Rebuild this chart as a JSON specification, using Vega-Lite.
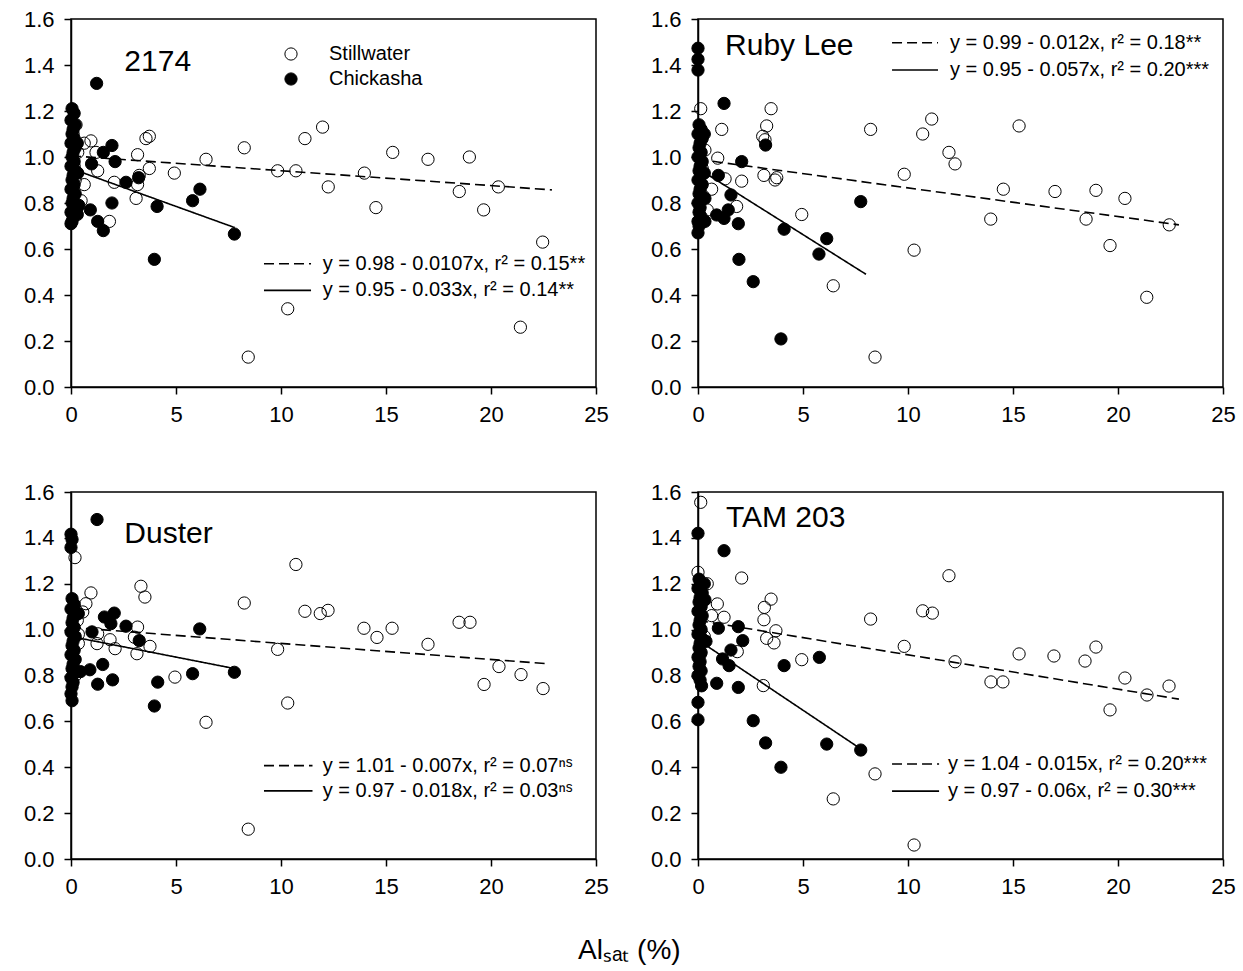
{
"$schema":"https://vega.github.io/schema/vega-lite/v6.json",
"padding":{"left":22,"top":7,"right":5,"bottom":5},
"background":"white",
"title":{"text":"Alₛₐₜ (%)","orient":"bottom","anchor":"middle","fontSize":28,"font":"Liberation Sans","fontWeight":"normal","color":"black","offset":39},
"config":{
 "font":"Liberation Sans",
 "view":{"stroke":"black","strokeWidth":1.5},
 "axis":{"grid":false,"domainColor":"black","domainWidth":1.5,"tickColor":"black","tickWidth":1.5,"tickSize":7,"labelFont":"Liberation Sans","labelFontSize":22,"labelColor":"black","labelPadding":10,"labelFlush":false,"labelOverlap":false}
},
"datasets":{
"points":[
{"cultivar":"2174","site":"Stillwater","x":0.24,"y":1.14},{"cultivar":"2174","site":"Stillwater","x":0.32,"y":1.02},{"cultivar":"2174","site":"Stillwater","x":0.63,"y":1.06},{"cultivar":"2174","site":"Stillwater","x":0.95,"y":1.07},{"cultivar":"2174","site":"Stillwater","x":1.19,"y":1.02},{"cultivar":"2174","site":"Stillwater","x":3.57,"y":1.08},{"cultivar":"2174","site":"Stillwater","x":3.73,"y":1.09},{"cultivar":"2174","site":"Stillwater","x":3.17,"y":1.01},{"cultivar":"2174","site":"Stillwater","x":6.43,"y":0.99},{"cultivar":"2174","site":"Stillwater","x":8.25,"y":1.04},{"cultivar":"2174","site":"Stillwater","x":9.84,"y":0.94},{"cultivar":"2174","site":"Stillwater","x":10.71,"y":0.94},{"cultivar":"2174","site":"Stillwater","x":11.14,"y":1.08},{"cultivar":"2174","site":"Stillwater","x":11.98,"y":1.13},{"cultivar":"2174","site":"Stillwater","x":12.25,"y":0.87},{"cultivar":"2174","site":"Stillwater","x":13.97,"y":0.93},{"cultivar":"2174","site":"Stillwater","x":14.52,"y":0.78},{"cultivar":"2174","site":"Stillwater","x":15.32,"y":1.02},{"cultivar":"2174","site":"Stillwater","x":17.0,"y":0.99},{"cultivar":"2174","site":"Stillwater","x":18.97,"y":1.0},{"cultivar":"2174","site":"Stillwater","x":18.49,"y":0.85},{"cultivar":"2174","site":"Stillwater","x":20.35,"y":0.87},{"cultivar":"2174","site":"Stillwater","x":19.65,"y":0.77},{"cultivar":"2174","site":"Stillwater","x":22.46,"y":0.63},{"cultivar":"2174","site":"Stillwater","x":10.32,"y":0.34},{"cultivar":"2174","site":"Stillwater","x":21.4,"y":0.26},{"cultivar":"2174","site":"Stillwater","x":8.44,"y":0.13},{"cultivar":"2174","site":"Stillwater","x":4.92,"y":0.93},{"cultivar":"2174","site":"Stillwater","x":3.73,"y":0.95},{"cultivar":"2174","site":"Stillwater","x":3.25,"y":0.92},{"cultivar":"2174","site":"Stillwater","x":3.17,"y":0.88},{"cultivar":"2174","site":"Stillwater","x":2.06,"y":0.89},{"cultivar":"2174","site":"Stillwater","x":1.27,"y":0.94},{"cultivar":"2174","site":"Stillwater","x":0.63,"y":0.88},{"cultivar":"2174","site":"Stillwater","x":3.1,"y":0.82},{"cultivar":"2174","site":"Stillwater","x":1.83,"y":0.72},{"cultivar":"2174","site":"Stillwater","x":0.48,"y":0.81},{"cultivar":"2174","site":"Stillwater","x":0.15,"y":0.96},{"cultivar":"2174","site":"Stillwater","x":0.2,"y":0.9},{"cultivar":"2174","site":"Stillwater","x":0.1,"y":1.1},{"cultivar":"2174","site":"Stillwater","x":0.3,"y":0.78},
{"cultivar":"2174","site":"Chickasha","x":0.05,"y":1.21},{"cultivar":"2174","site":"Chickasha","x":0.15,"y":1.19},{"cultivar":"2174","site":"Chickasha","x":0.0,"y":1.16},{"cultivar":"2174","site":"Chickasha","x":0.2,"y":1.14},{"cultivar":"2174","site":"Chickasha","x":0.1,"y":1.12},{"cultivar":"2174","site":"Chickasha","x":0.05,"y":1.1},{"cultivar":"2174","site":"Chickasha","x":0.15,"y":1.08},{"cultivar":"2174","site":"Chickasha","x":0.0,"y":1.06},{"cultivar":"2174","site":"Chickasha","x":0.2,"y":1.04},{"cultivar":"2174","site":"Chickasha","x":0.1,"y":1.02},{"cultivar":"2174","site":"Chickasha","x":0.05,"y":1.0},{"cultivar":"2174","site":"Chickasha","x":0.15,"y":0.98},{"cultivar":"2174","site":"Chickasha","x":0.0,"y":0.96},{"cultivar":"2174","site":"Chickasha","x":0.2,"y":0.94},{"cultivar":"2174","site":"Chickasha","x":0.1,"y":0.92},{"cultivar":"2174","site":"Chickasha","x":0.05,"y":0.9},{"cultivar":"2174","site":"Chickasha","x":0.15,"y":0.88},{"cultivar":"2174","site":"Chickasha","x":0.0,"y":0.86},{"cultivar":"2174","site":"Chickasha","x":0.2,"y":0.84},{"cultivar":"2174","site":"Chickasha","x":0.1,"y":0.82},{"cultivar":"2174","site":"Chickasha","x":0.05,"y":0.8},{"cultivar":"2174","site":"Chickasha","x":0.15,"y":0.78},{"cultivar":"2174","site":"Chickasha","x":0.0,"y":0.76},{"cultivar":"2174","site":"Chickasha","x":0.1,"y":0.74},{"cultivar":"2174","site":"Chickasha","x":0.05,"y":0.72},{"cultivar":"2174","site":"Chickasha","x":0.0,"y":0.71},
{"cultivar":"2174","site":"Chickasha","x":1.22,"y":1.32},{"cultivar":"2174","site":"Chickasha","x":0.98,"y":0.97},{"cultivar":"2174","site":"Chickasha","x":1.54,"y":1.02},{"cultivar":"2174","site":"Chickasha","x":1.95,"y":1.05},{"cultivar":"2174","site":"Chickasha","x":2.1,"y":0.98},{"cultivar":"2174","site":"Chickasha","x":2.62,"y":0.89},{"cultivar":"2174","site":"Chickasha","x":3.22,"y":0.91},{"cultivar":"2174","site":"Chickasha","x":1.95,"y":0.8},{"cultivar":"2174","site":"Chickasha","x":4.1,"y":0.785},{"cultivar":"2174","site":"Chickasha","x":0.92,"y":0.77},{"cultivar":"2174","site":"Chickasha","x":1.27,"y":0.72},{"cultivar":"2174","site":"Chickasha","x":1.54,"y":0.68},{"cultivar":"2174","site":"Chickasha","x":5.79,"y":0.81},{"cultivar":"2174","site":"Chickasha","x":6.14,"y":0.86},{"cultivar":"2174","site":"Chickasha","x":7.78,"y":0.665},{"cultivar":"2174","site":"Chickasha","x":3.97,"y":0.555},{"cultivar":"2174","site":"Chickasha","x":0.32,"y":0.93},{"cultivar":"2174","site":"Chickasha","x":0.37,"y":0.79},{"cultivar":"2174","site":"Chickasha","x":0.3,"y":1.06},{"cultivar":"2174","site":"Chickasha","x":0.3,"y":0.75},

{"cultivar":"Ruby Lee","site":"Stillwater","x":0.13,"y":1.21},{"cultivar":"Ruby Lee","site":"Stillwater","x":1.13,"y":1.12},{"cultivar":"Ruby Lee","site":"Stillwater","x":3.48,"y":1.21},{"cultivar":"Ruby Lee","site":"Stillwater","x":3.27,"y":1.135},{"cultivar":"Ruby Lee","site":"Stillwater","x":3.08,"y":1.09},{"cultivar":"Ruby Lee","site":"Stillwater","x":3.19,"y":1.075},{"cultivar":"Ruby Lee","site":"Stillwater","x":0.94,"y":0.995},{"cultivar":"Ruby Lee","site":"Stillwater","x":0.33,"y":1.03},{"cultivar":"Ruby Lee","site":"Stillwater","x":3.14,"y":0.92},{"cultivar":"Ruby Lee","site":"Stillwater","x":3.67,"y":0.9},{"cultivar":"Ruby Lee","site":"Stillwater","x":3.75,"y":0.91},{"cultivar":"Ruby Lee","site":"Stillwater","x":2.08,"y":0.895},{"cultivar":"Ruby Lee","site":"Stillwater","x":1.29,"y":0.905},{"cultivar":"Ruby Lee","site":"Stillwater","x":0.65,"y":0.86},{"cultivar":"Ruby Lee","site":"Stillwater","x":1.84,"y":0.785},{"cultivar":"Ruby Lee","site":"Stillwater","x":0.44,"y":0.77},{"cultivar":"Ruby Lee","site":"Stillwater","x":4.94,"y":0.75},{"cultivar":"Ruby Lee","site":"Stillwater","x":6.44,"y":0.44},{"cultivar":"Ruby Lee","site":"Stillwater","x":8.22,"y":1.12},{"cultivar":"Ruby Lee","site":"Stillwater","x":9.82,"y":0.925},{"cultivar":"Ruby Lee","site":"Stillwater","x":10.29,"y":0.595},{"cultivar":"Ruby Lee","site":"Stillwater","x":10.7,"y":1.1},{"cultivar":"Ruby Lee","site":"Stillwater","x":11.13,"y":1.165},{"cultivar":"Ruby Lee","site":"Stillwater","x":8.43,"y":0.13},{"cultivar":"Ruby Lee","site":"Stillwater","x":11.95,"y":1.02},{"cultivar":"Ruby Lee","site":"Stillwater","x":12.24,"y":0.97},{"cultivar":"Ruby Lee","site":"Stillwater","x":15.29,"y":1.135},{"cultivar":"Ruby Lee","site":"Stillwater","x":14.54,"y":0.86},{"cultivar":"Ruby Lee","site":"Stillwater","x":13.94,"y":0.73},{"cultivar":"Ruby Lee","site":"Stillwater","x":17.0,"y":0.85},{"cultivar":"Ruby Lee","site":"Stillwater","x":18.95,"y":0.855},{"cultivar":"Ruby Lee","site":"Stillwater","x":20.33,"y":0.82},{"cultivar":"Ruby Lee","site":"Stillwater","x":18.48,"y":0.73},{"cultivar":"Ruby Lee","site":"Stillwater","x":19.62,"y":0.615},{"cultivar":"Ruby Lee","site":"Stillwater","x":22.44,"y":0.705},{"cultivar":"Ruby Lee","site":"Stillwater","x":21.37,"y":0.39},{"cultivar":"Ruby Lee","site":"Stillwater","x":0.2,"y":0.95},{"cultivar":"Ruby Lee","site":"Stillwater","x":0.15,"y":1.1},{"cultivar":"Ruby Lee","site":"Stillwater","x":0.25,"y":0.83},
{"cultivar":"Ruby Lee","site":"Chickasha","x":0.0,"y":1.473},{"cultivar":"Ruby Lee","site":"Chickasha","x":0.0,"y":1.425},{"cultivar":"Ruby Lee","site":"Chickasha","x":0.0,"y":1.378},{"cultivar":"Ruby Lee","site":"Chickasha","x":0.05,"y":1.14},{"cultivar":"Ruby Lee","site":"Chickasha","x":0.15,"y":1.12},{"cultivar":"Ruby Lee","site":"Chickasha","x":0.0,"y":1.1},{"cultivar":"Ruby Lee","site":"Chickasha","x":0.2,"y":1.08},{"cultivar":"Ruby Lee","site":"Chickasha","x":0.1,"y":1.06},{"cultivar":"Ruby Lee","site":"Chickasha","x":0.05,"y":1.04},{"cultivar":"Ruby Lee","site":"Chickasha","x":0.15,"y":1.02},{"cultivar":"Ruby Lee","site":"Chickasha","x":0.0,"y":1.0},{"cultivar":"Ruby Lee","site":"Chickasha","x":0.2,"y":0.98},{"cultivar":"Ruby Lee","site":"Chickasha","x":0.1,"y":0.96},{"cultivar":"Ruby Lee","site":"Chickasha","x":0.05,"y":0.94},{"cultivar":"Ruby Lee","site":"Chickasha","x":0.15,"y":0.92},{"cultivar":"Ruby Lee","site":"Chickasha","x":0.0,"y":0.9},{"cultivar":"Ruby Lee","site":"Chickasha","x":0.2,"y":0.88},{"cultivar":"Ruby Lee","site":"Chickasha","x":0.1,"y":0.86},{"cultivar":"Ruby Lee","site":"Chickasha","x":0.05,"y":0.84},{"cultivar":"Ruby Lee","site":"Chickasha","x":0.15,"y":0.82},{"cultivar":"Ruby Lee","site":"Chickasha","x":0.0,"y":0.8},{"cultivar":"Ruby Lee","site":"Chickasha","x":0.1,"y":0.78},{"cultivar":"Ruby Lee","site":"Chickasha","x":0.05,"y":0.76},{"cultivar":"Ruby Lee","site":"Chickasha","x":0.15,"y":0.74},{"cultivar":"Ruby Lee","site":"Chickasha","x":0.0,"y":0.72},{"cultivar":"Ruby Lee","site":"Chickasha","x":0.05,"y":0.7},{"cultivar":"Ruby Lee","site":"Chickasha","x":0.0,"y":0.67},
{"cultivar":"Ruby Lee","site":"Chickasha","x":1.24,"y":1.233},{"cultivar":"Ruby Lee","site":"Chickasha","x":3.22,"y":1.052},{"cultivar":"Ruby Lee","site":"Chickasha","x":2.08,"y":0.98},{"cultivar":"Ruby Lee","site":"Chickasha","x":0.97,"y":0.92},{"cultivar":"Ruby Lee","site":"Chickasha","x":0.33,"y":0.82},{"cultivar":"Ruby Lee","site":"Chickasha","x":0.89,"y":0.748},{"cultivar":"Ruby Lee","site":"Chickasha","x":1.24,"y":0.733},{"cultivar":"Ruby Lee","site":"Chickasha","x":1.44,"y":0.77},{"cultivar":"Ruby Lee","site":"Chickasha","x":1.57,"y":0.835},{"cultivar":"Ruby Lee","site":"Chickasha","x":0.33,"y":0.72},{"cultivar":"Ruby Lee","site":"Chickasha","x":1.92,"y":0.71},{"cultivar":"Ruby Lee","site":"Chickasha","x":1.95,"y":0.555},{"cultivar":"Ruby Lee","site":"Chickasha","x":2.63,"y":0.458},{"cultivar":"Ruby Lee","site":"Chickasha","x":4.1,"y":0.686},{"cultivar":"Ruby Lee","site":"Chickasha","x":6.13,"y":0.645},{"cultivar":"Ruby Lee","site":"Chickasha","x":5.76,"y":0.578},{"cultivar":"Ruby Lee","site":"Chickasha","x":7.75,"y":0.806},{"cultivar":"Ruby Lee","site":"Chickasha","x":3.95,"y":0.209},{"cultivar":"Ruby Lee","site":"Chickasha","x":0.3,"y":1.1},{"cultivar":"Ruby Lee","site":"Chickasha","x":0.3,"y":0.93},

{"cultivar":"Duster","site":"Stillwater","x":0.19,"y":1.314},{"cultivar":"Duster","site":"Stillwater","x":0.95,"y":1.16},{"cultivar":"Duster","site":"Stillwater","x":0.71,"y":1.113},{"cultivar":"Duster","site":"Stillwater","x":0.56,"y":1.077},{"cultivar":"Duster","site":"Stillwater","x":3.33,"y":1.189},{"cultivar":"Duster","site":"Stillwater","x":3.52,"y":1.142},{"cultivar":"Duster","site":"Stillwater","x":3.17,"y":1.011},{"cultivar":"Duster","site":"Stillwater","x":3.02,"y":0.967},{"cultivar":"Duster","site":"Stillwater","x":3.76,"y":0.927},{"cultivar":"Duster","site":"Stillwater","x":3.14,"y":0.895},{"cultivar":"Duster","site":"Stillwater","x":1.86,"y":0.956},{"cultivar":"Duster","site":"Stillwater","x":2.1,"y":0.917},{"cultivar":"Duster","site":"Stillwater","x":1.24,"y":0.939},{"cultivar":"Duster","site":"Stillwater","x":1.27,"y":0.982},{"cultivar":"Duster","site":"Stillwater","x":0.35,"y":0.98},{"cultivar":"Duster","site":"Stillwater","x":0.35,"y":0.94},{"cultivar":"Duster","site":"Stillwater","x":4.95,"y":0.793},{"cultivar":"Duster","site":"Stillwater","x":6.43,"y":0.596},{"cultivar":"Duster","site":"Stillwater","x":8.25,"y":1.116},{"cultivar":"Duster","site":"Stillwater","x":9.84,"y":0.914},{"cultivar":"Duster","site":"Stillwater","x":10.32,"y":0.68},{"cultivar":"Duster","site":"Stillwater","x":10.71,"y":1.284},{"cultivar":"Duster","site":"Stillwater","x":11.14,"y":1.08},{"cultivar":"Duster","site":"Stillwater","x":11.87,"y":1.07},{"cultivar":"Duster","site":"Stillwater","x":8.44,"y":0.13},{"cultivar":"Duster","site":"Stillwater","x":12.24,"y":1.084},{"cultivar":"Duster","site":"Stillwater","x":13.95,"y":1.006},{"cultivar":"Duster","site":"Stillwater","x":14.57,"y":0.966},{"cultivar":"Duster","site":"Stillwater","x":15.29,"y":1.006},{"cultivar":"Duster","site":"Stillwater","x":17.0,"y":0.936},{"cultivar":"Duster","site":"Stillwater","x":18.48,"y":1.032},{"cultivar":"Duster","site":"Stillwater","x":19.0,"y":1.032},{"cultivar":"Duster","site":"Stillwater","x":19.67,"y":0.761},{"cultivar":"Duster","site":"Stillwater","x":20.38,"y":0.839},{"cultivar":"Duster","site":"Stillwater","x":21.43,"y":0.804},{"cultivar":"Duster","site":"Stillwater","x":22.48,"y":0.743},{"cultivar":"Duster","site":"Stillwater","x":0.2,"y":0.8},{"cultivar":"Duster","site":"Stillwater","x":0.3,"y":1.04},
{"cultivar":"Duster","site":"Chickasha","x":0.0,"y":1.416},{"cultivar":"Duster","site":"Chickasha","x":0.05,"y":1.393},{"cultivar":"Duster","site":"Chickasha","x":0.0,"y":1.358},{"cultivar":"Duster","site":"Chickasha","x":0.05,"y":1.135},{"cultivar":"Duster","site":"Chickasha","x":0.15,"y":1.11},{"cultivar":"Duster","site":"Chickasha","x":0.0,"y":1.09},{"cultivar":"Duster","site":"Chickasha","x":0.2,"y":1.07},{"cultivar":"Duster","site":"Chickasha","x":0.1,"y":1.05},{"cultivar":"Duster","site":"Chickasha","x":0.05,"y":1.03},{"cultivar":"Duster","site":"Chickasha","x":0.15,"y":1.01},{"cultivar":"Duster","site":"Chickasha","x":0.0,"y":0.99},{"cultivar":"Duster","site":"Chickasha","x":0.2,"y":0.97},{"cultivar":"Duster","site":"Chickasha","x":0.1,"y":0.95},{"cultivar":"Duster","site":"Chickasha","x":0.05,"y":0.93},{"cultivar":"Duster","site":"Chickasha","x":0.15,"y":0.91},{"cultivar":"Duster","site":"Chickasha","x":0.0,"y":0.89},{"cultivar":"Duster","site":"Chickasha","x":0.2,"y":0.87},{"cultivar":"Duster","site":"Chickasha","x":0.1,"y":0.85},{"cultivar":"Duster","site":"Chickasha","x":0.05,"y":0.83},{"cultivar":"Duster","site":"Chickasha","x":0.15,"y":0.81},{"cultivar":"Duster","site":"Chickasha","x":0.0,"y":0.79},{"cultivar":"Duster","site":"Chickasha","x":0.1,"y":0.77},{"cultivar":"Duster","site":"Chickasha","x":0.05,"y":0.75},{"cultivar":"Duster","site":"Chickasha","x":0.0,"y":0.72},{"cultivar":"Duster","site":"Chickasha","x":0.05,"y":0.69},
{"cultivar":"Duster","site":"Chickasha","x":1.24,"y":1.48},{"cultivar":"Duster","site":"Chickasha","x":0.35,"y":1.07},{"cultivar":"Duster","site":"Chickasha","x":1.0,"y":0.99},{"cultivar":"Duster","site":"Chickasha","x":1.59,"y":1.055},{"cultivar":"Duster","site":"Chickasha","x":2.06,"y":1.072},{"cultivar":"Duster","site":"Chickasha","x":1.9,"y":1.026},{"cultivar":"Duster","site":"Chickasha","x":2.62,"y":1.015},{"cultivar":"Duster","site":"Chickasha","x":3.25,"y":0.952},{"cultivar":"Duster","site":"Chickasha","x":6.13,"y":1.003},{"cultivar":"Duster","site":"Chickasha","x":7.78,"y":0.814},{"cultivar":"Duster","site":"Chickasha","x":5.79,"y":0.808},{"cultivar":"Duster","site":"Chickasha","x":4.13,"y":0.771},{"cultivar":"Duster","site":"Chickasha","x":3.97,"y":0.667},{"cultivar":"Duster","site":"Chickasha","x":1.98,"y":0.781},{"cultivar":"Duster","site":"Chickasha","x":1.27,"y":0.762},{"cultivar":"Duster","site":"Chickasha","x":1.51,"y":0.848},{"cultivar":"Duster","site":"Chickasha","x":0.9,"y":0.825},{"cultivar":"Duster","site":"Chickasha","x":0.45,"y":0.817},

{"cultivar":"TAM 203","site":"Stillwater","x":0.13,"y":1.555},{"cultivar":"TAM 203","site":"Stillwater","x":0.0,"y":1.25},{"cultivar":"TAM 203","site":"Stillwater","x":0.44,"y":1.2},{"cultivar":"TAM 203","site":"Stillwater","x":2.08,"y":1.225},{"cultivar":"TAM 203","site":"Stillwater","x":0.92,"y":1.112},{"cultivar":"TAM 203","site":"Stillwater","x":0.65,"y":1.061},{"cultivar":"TAM 203","site":"Stillwater","x":1.24,"y":1.054},{"cultivar":"TAM 203","site":"Stillwater","x":3.16,"y":1.097},{"cultivar":"TAM 203","site":"Stillwater","x":3.48,"y":1.133},{"cultivar":"TAM 203","site":"Stillwater","x":3.14,"y":1.043},{"cultivar":"TAM 203","site":"Stillwater","x":3.71,"y":0.995},{"cultivar":"TAM 203","site":"Stillwater","x":3.27,"y":0.962},{"cultivar":"TAM 203","site":"Stillwater","x":3.62,"y":0.942},{"cultivar":"TAM 203","site":"Stillwater","x":1.87,"y":0.904},{"cultivar":"TAM 203","site":"Stillwater","x":4.94,"y":0.869},{"cultivar":"TAM 203","site":"Stillwater","x":3.11,"y":0.756},{"cultivar":"TAM 203","site":"Stillwater","x":8.22,"y":1.046},{"cultivar":"TAM 203","site":"Stillwater","x":9.82,"y":0.927},{"cultivar":"TAM 203","site":"Stillwater","x":10.7,"y":1.082},{"cultivar":"TAM 203","site":"Stillwater","x":11.16,"y":1.072},{"cultivar":"TAM 203","site":"Stillwater","x":8.43,"y":0.371},{"cultivar":"TAM 203","site":"Stillwater","x":6.44,"y":0.262},{"cultivar":"TAM 203","site":"Stillwater","x":10.29,"y":0.061},{"cultivar":"TAM 203","site":"Stillwater","x":0.3,"y":0.97},{"cultivar":"TAM 203","site":"Stillwater","x":0.1,"y":0.89},{"cultivar":"TAM 203","site":"Stillwater","x":11.95,"y":1.235},{"cultivar":"TAM 203","site":"Stillwater","x":12.24,"y":0.86},{"cultivar":"TAM 203","site":"Stillwater","x":13.95,"y":0.772},{"cultivar":"TAM 203","site":"Stillwater","x":14.52,"y":0.772},{"cultivar":"TAM 203","site":"Stillwater","x":15.29,"y":0.894},{"cultivar":"TAM 203","site":"Stillwater","x":16.95,"y":0.885},{"cultivar":"TAM 203","site":"Stillwater","x":18.43,"y":0.863},{"cultivar":"TAM 203","site":"Stillwater","x":18.95,"y":0.924},{"cultivar":"TAM 203","site":"Stillwater","x":19.62,"y":0.65},{"cultivar":"TAM 203","site":"Stillwater","x":20.33,"y":0.789},{"cultivar":"TAM 203","site":"Stillwater","x":21.38,"y":0.715},{"cultivar":"TAM 203","site":"Stillwater","x":22.43,"y":0.754},
{"cultivar":"TAM 203","site":"Chickasha","x":0.0,"y":1.42},{"cultivar":"TAM 203","site":"Chickasha","x":0.05,"y":1.22},{"cultivar":"TAM 203","site":"Chickasha","x":0.15,"y":1.2},{"cultivar":"TAM 203","site":"Chickasha","x":0.0,"y":1.18},{"cultivar":"TAM 203","site":"Chickasha","x":0.2,"y":1.16},{"cultivar":"TAM 203","site":"Chickasha","x":0.1,"y":1.14},{"cultivar":"TAM 203","site":"Chickasha","x":0.05,"y":1.12},{"cultivar":"TAM 203","site":"Chickasha","x":0.15,"y":1.1},{"cultivar":"TAM 203","site":"Chickasha","x":0.0,"y":1.08},{"cultivar":"TAM 203","site":"Chickasha","x":0.2,"y":1.06},{"cultivar":"TAM 203","site":"Chickasha","x":0.1,"y":1.04},{"cultivar":"TAM 203","site":"Chickasha","x":0.05,"y":1.02},{"cultivar":"TAM 203","site":"Chickasha","x":0.15,"y":1.0},{"cultivar":"TAM 203","site":"Chickasha","x":0.0,"y":0.98},{"cultivar":"TAM 203","site":"Chickasha","x":0.2,"y":0.96},{"cultivar":"TAM 203","site":"Chickasha","x":0.1,"y":0.94},{"cultivar":"TAM 203","site":"Chickasha","x":0.05,"y":0.92},{"cultivar":"TAM 203","site":"Chickasha","x":0.15,"y":0.9},{"cultivar":"TAM 203","site":"Chickasha","x":0.0,"y":0.88},{"cultivar":"TAM 203","site":"Chickasha","x":0.1,"y":0.86},{"cultivar":"TAM 203","site":"Chickasha","x":0.05,"y":0.84},{"cultivar":"TAM 203","site":"Chickasha","x":0.15,"y":0.82},{"cultivar":"TAM 203","site":"Chickasha","x":0.0,"y":0.8},{"cultivar":"TAM 203","site":"Chickasha","x":0.1,"y":0.78},{"cultivar":"TAM 203","site":"Chickasha","x":0.17,"y":0.755},{"cultivar":"TAM 203","site":"Chickasha","x":0.0,"y":0.683},{"cultivar":"TAM 203","site":"Chickasha","x":0.0,"y":0.607},
{"cultivar":"TAM 203","site":"Chickasha","x":1.24,"y":1.344},{"cultivar":"TAM 203","site":"Chickasha","x":0.97,"y":1.006},{"cultivar":"TAM 203","site":"Chickasha","x":1.92,"y":1.013},{"cultivar":"TAM 203","site":"Chickasha","x":2.13,"y":0.952},{"cultivar":"TAM 203","site":"Chickasha","x":1.57,"y":0.911},{"cultivar":"TAM 203","site":"Chickasha","x":1.17,"y":0.872},{"cultivar":"TAM 203","site":"Chickasha","x":1.48,"y":0.843},{"cultivar":"TAM 203","site":"Chickasha","x":0.38,"y":0.949},{"cultivar":"TAM 203","site":"Chickasha","x":0.89,"y":0.766},{"cultivar":"TAM 203","site":"Chickasha","x":1.92,"y":0.748},{"cultivar":"TAM 203","site":"Chickasha","x":4.1,"y":0.843},{"cultivar":"TAM 203","site":"Chickasha","x":5.78,"y":0.879},{"cultivar":"TAM 203","site":"Chickasha","x":2.63,"y":0.603},{"cultivar":"TAM 203","site":"Chickasha","x":3.22,"y":0.506},{"cultivar":"TAM 203","site":"Chickasha","x":3.95,"y":0.4},{"cultivar":"TAM 203","site":"Chickasha","x":6.13,"y":0.501},{"cultivar":"TAM 203","site":"Chickasha","x":7.75,"y":0.475},{"cultivar":"TAM 203","site":"Chickasha","x":0.33,"y":1.13},{"cultivar":"TAM 203","site":"Chickasha","x":0.3,"y":1.2}
],
"fits":[
{"cultivar":"2174","site":"Stillwater","x":0,"y":1.005},{"cultivar":"2174","site":"Stillwater","x":22.9,"y":0.857},
{"cultivar":"2174","site":"Chickasha","x":0,"y":0.95},{"cultivar":"2174","site":"Chickasha","x":7.8,"y":0.693},
{"cultivar":"Ruby Lee","site":"Stillwater","x":0,"y":0.99},{"cultivar":"Ruby Lee","site":"Stillwater","x":22.9,"y":0.705},
{"cultivar":"Ruby Lee","site":"Chickasha","x":0,"y":0.95},{"cultivar":"Ruby Lee","site":"Chickasha","x":8.0,"y":0.49},
{"cultivar":"Duster","site":"Stillwater","x":0,"y":1.01},{"cultivar":"Duster","site":"Stillwater","x":22.7,"y":0.851},
{"cultivar":"Duster","site":"Chickasha","x":0,"y":0.97},{"cultivar":"Duster","site":"Chickasha","x":7.8,"y":0.83},
{"cultivar":"TAM 203","site":"Stillwater","x":0,"y":1.04},{"cultivar":"TAM 203","site":"Stillwater","x":22.9,"y":0.697},
{"cultivar":"TAM 203","site":"Chickasha","x":0,"y":0.955},{"cultivar":"TAM 203","site":"Chickasha","x":7.75,"y":0.48}
]
},
"resolve":{"scale":{"fill":"independent"},"legend":{"fill":"independent"}},
"columns":2,
"spacing":{"row":105,"column":102},
"bounds":"flush",
"concat":[
{"width":525,"height":368,
"layer":[
{"data":{"name":"points"},"transform":[{"filter":"datum.cultivar === '2174'"}],
 "mark":{"type":"point","shape":"circle","filled":true,"size":150,"stroke":"black","strokeWidth":1,"opacity":1},
 "encoding":{
  "x":{"field":"x","type":"quantitative","scale":{"domain":[0,25],"nice":false},"axis":{"values":[0,5,10,15,20,25],"title":null}},
  "y":{"field":"y","type":"quantitative","scale":{"domain":[0,1.6],"nice":false},"axis":{"values":[0,0.2,0.4,0.6,0.8,1,1.2,1.4,1.6],"format":".1f","title":null}},
  "fill":{"field":"site","type":"nominal","scale":{"domain":["Stillwater","Chickasha"],"range":["transparent","black"]},
   "legend":{"orient":"none","legendX":210,"legendY":25,"title":null,"direction":"vertical","padding":0,"labelFontSize":20,"labelFont":"Liberation Sans","labelColor":"black","symbolType":"circle","symbolSize":150,"symbolStrokeColor":"black","symbolStrokeWidth":1,"labelOffset":28,"rowPadding":5}}
 }},
{"data":{"name":"fits"},"transform":[{"filter":"datum.cultivar === '2174'"}],
 "mark":{"type":"line","color":"black","strokeWidth":1.6},
 "encoding":{"x":{"field":"x","type":"quantitative","title":null},"y":{"field":"y","type":"quantitative","title":null},
  "strokeDash":{"field":"site","type":"nominal","scale":{"domain":["Stillwater","Chickasha"],"range":[[10,5],[1,0]]},"legend":null}}},
{"data":{"values":[{}]},"mark":{"type":"text","text":"2174","align":"left","baseline":"alphabetic","fontSize":30,"font":"Liberation Sans","color":"black"},"encoding":{"x":{"datum":2.54},"y":{"datum":1.372}}},
{"data":{"values":[{}]},"mark":{"type":"rule","color":"black","strokeWidth":1.6,"strokeDash":[10,5]},"encoding":{"x":{"datum":9.19},"x2":{"datum":11.43},"y":{"datum":0.536}}},
{"data":{"values":[{}]},"mark":{"type":"rule","color":"black","strokeWidth":1.6},"encoding":{"x":{"datum":9.19},"x2":{"datum":11.43},"y":{"datum":0.42}}},
{"data":{"values":[{}]},"mark":{"type":"text","text":"y = 0.98 - 0.0107x, r² = 0.15**","align":"left","baseline":"middle","fontSize":20,"font":"Liberation Sans","color":"black"},"encoding":{"x":{"datum":11.99},"y":{"datum":0.536}}},
{"data":{"values":[{}]},"mark":{"type":"text","text":"y = 0.95 - 0.033x, r² = 0.14**","align":"left","baseline":"middle","fontSize":20,"font":"Liberation Sans","color":"black"},"encoding":{"x":{"datum":11.99},"y":{"datum":0.42}}}
]},
{"width":525,"height":368,
"layer":[
{"data":{"name":"points"},"transform":[{"filter":"datum.cultivar === 'Ruby Lee'"}],
 "mark":{"type":"point","shape":"circle","filled":true,"size":150,"stroke":"black","strokeWidth":1,"opacity":1},
 "encoding":{
  "x":{"field":"x","type":"quantitative","scale":{"domain":[0,25],"nice":false},"axis":{"values":[0,5,10,15,20,25],"title":null}},
  "y":{"field":"y","type":"quantitative","scale":{"domain":[0,1.6],"nice":false},"axis":{"values":[0,0.2,0.4,0.6,0.8,1,1.2,1.4,1.6],"format":".1f","title":null}},
  "fill":{"field":"site","type":"nominal","scale":{"domain":["Stillwater","Chickasha"],"range":["transparent","black"]},"legend":null}
 }},
{"data":{"name":"fits"},"transform":[{"filter":"datum.cultivar === 'Ruby Lee'"}],
 "mark":{"type":"line","color":"black","strokeWidth":1.6},
 "encoding":{"x":{"field":"x","type":"quantitative","title":null},"y":{"field":"y","type":"quantitative","title":null},
  "strokeDash":{"field":"site","type":"nominal","scale":{"domain":["Stillwater","Chickasha"],"range":[[10,5],[1,0]]},"legend":null}}},
{"data":{"values":[{}]},"mark":{"type":"text","text":"Ruby Lee","align":"left","baseline":"alphabetic","fontSize":30,"font":"Liberation Sans","color":"black"},"encoding":{"x":{"datum":1.29},"y":{"datum":1.443}}},
{"data":{"values":[{}]},"mark":{"type":"rule","color":"black","strokeWidth":1.6,"strokeDash":[10,5]},"encoding":{"x":{"datum":9.24},"x2":{"datum":11.43},"y":{"datum":1.497}}},
{"data":{"values":[{}]},"mark":{"type":"rule","color":"black","strokeWidth":1.6},"encoding":{"x":{"datum":9.24},"x2":{"datum":11.43},"y":{"datum":1.378}}},
{"data":{"values":[{}]},"mark":{"type":"text","text":"y = 0.99 - 0.012x, r² = 0.18**","align":"left","baseline":"middle","fontSize":20,"font":"Liberation Sans","color":"black"},"encoding":{"x":{"datum":12.0},"y":{"datum":1.497}}},
{"data":{"values":[{}]},"mark":{"type":"text","text":"y = 0.95 - 0.057x, r² = 0.20***","align":"left","baseline":"middle","fontSize":20,"font":"Liberation Sans","color":"black"},"encoding":{"x":{"datum":12.0},"y":{"datum":1.378}}}
]},
{"width":525,"height":367,
"layer":[
{"data":{"name":"points"},"transform":[{"filter":"datum.cultivar === 'Duster'"}],
 "mark":{"type":"point","shape":"circle","filled":true,"size":150,"stroke":"black","strokeWidth":1,"opacity":1},
 "encoding":{
  "x":{"field":"x","type":"quantitative","scale":{"domain":[0,25],"nice":false},"axis":{"values":[0,5,10,15,20,25],"title":null}},
  "y":{"field":"y","type":"quantitative","scale":{"domain":[0,1.6],"nice":false},"axis":{"values":[0,0.2,0.4,0.6,0.8,1,1.2,1.4,1.6],"format":".1f","title":null}},
  "fill":{"field":"site","type":"nominal","scale":{"domain":["Stillwater","Chickasha"],"range":["transparent","black"]},"legend":null}
 }},
{"data":{"name":"fits"},"transform":[{"filter":"datum.cultivar === 'Duster'"}],
 "mark":{"type":"line","color":"black","strokeWidth":1.6},
 "encoding":{"x":{"field":"x","type":"quantitative","title":null},"y":{"field":"y","type":"quantitative","title":null},
  "strokeDash":{"field":"site","type":"nominal","scale":{"domain":["Stillwater","Chickasha"],"range":[[10,5],[1,0]]},"legend":null}}},
{"data":{"values":[{}]},"mark":{"type":"text","text":"Duster","align":"left","baseline":"alphabetic","fontSize":30,"font":"Liberation Sans","color":"black"},"encoding":{"x":{"datum":2.54},"y":{"datum":1.376}}},
{"data":{"values":[{}]},"mark":{"type":"rule","color":"black","strokeWidth":1.6,"strokeDash":[10,5]},"encoding":{"x":{"datum":9.19},"x2":{"datum":11.5},"y":{"datum":0.407}}},
{"data":{"values":[{}]},"mark":{"type":"rule","color":"black","strokeWidth":1.6},"encoding":{"x":{"datum":9.19},"x2":{"datum":11.5},"y":{"datum":0.297}}},
{"data":{"values":[{}]},"mark":{"type":"text","text":"y = 1.01 - 0.007x, r² = 0.07ⁿˢ","align":"left","baseline":"middle","fontSize":20,"font":"Liberation Sans","color":"black"},"encoding":{"x":{"datum":11.99},"y":{"datum":0.407}}},
{"data":{"values":[{}]},"mark":{"type":"text","text":"y = 0.97 - 0.018x, r² = 0.03ⁿˢ","align":"left","baseline":"middle","fontSize":20,"font":"Liberation Sans","color":"black"},"encoding":{"x":{"datum":11.99},"y":{"datum":0.297}}}
]},
{"width":525,"height":367,
"layer":[
{"data":{"name":"points"},"transform":[{"filter":"datum.cultivar === 'TAM 203'"}],
 "mark":{"type":"point","shape":"circle","filled":true,"size":150,"stroke":"black","strokeWidth":1,"opacity":1},
 "encoding":{
  "x":{"field":"x","type":"quantitative","scale":{"domain":[0,25],"nice":false},"axis":{"values":[0,5,10,15,20,25],"title":null}},
  "y":{"field":"y","type":"quantitative","scale":{"domain":[0,1.6],"nice":false},"axis":{"values":[0,0.2,0.4,0.6,0.8,1,1.2,1.4,1.6],"format":".1f","title":null}},
  "fill":{"field":"site","type":"nominal","scale":{"domain":["Stillwater","Chickasha"],"range":["transparent","black"]},"legend":null}
 }},
{"data":{"name":"fits"},"transform":[{"filter":"datum.cultivar === 'TAM 203'"}],
 "mark":{"type":"line","color":"black","strokeWidth":1.6},
 "encoding":{"x":{"field":"x","type":"quantitative","title":null},"y":{"field":"y","type":"quantitative","title":null},
  "strokeDash":{"field":"site","type":"nominal","scale":{"domain":["Stillwater","Chickasha"],"range":[[10,5],[1,0]]},"legend":null}}},
{"data":{"values":[{}]},"mark":{"type":"text","text":"TAM 203","align":"left","baseline":"alphabetic","fontSize":30,"font":"Liberation Sans","color":"black"},"encoding":{"x":{"datum":1.33},"y":{"datum":1.446}}},
{"data":{"values":[{}]},"mark":{"type":"rule","color":"black","strokeWidth":1.6,"strokeDash":[10,5]},"encoding":{"x":{"datum":9.24},"x2":{"datum":11.48},"y":{"datum":0.414}}},
{"data":{"values":[{}]},"mark":{"type":"rule","color":"black","strokeWidth":1.6},"encoding":{"x":{"datum":9.24},"x2":{"datum":11.48},"y":{"datum":0.296}}},
{"data":{"values":[{}]},"mark":{"type":"text","text":"y = 1.04 - 0.015x, r² = 0.20***","align":"left","baseline":"middle","fontSize":20,"font":"Liberation Sans","color":"black"},"encoding":{"x":{"datum":11.9},"y":{"datum":0.414}}},
{"data":{"values":[{}]},"mark":{"type":"text","text":"y = 0.97 - 0.06x, r² = 0.30***","align":"left","baseline":"middle","fontSize":20,"font":"Liberation Sans","color":"black"},"encoding":{"x":{"datum":11.9},"y":{"datum":0.296}}}
]}
]
}
